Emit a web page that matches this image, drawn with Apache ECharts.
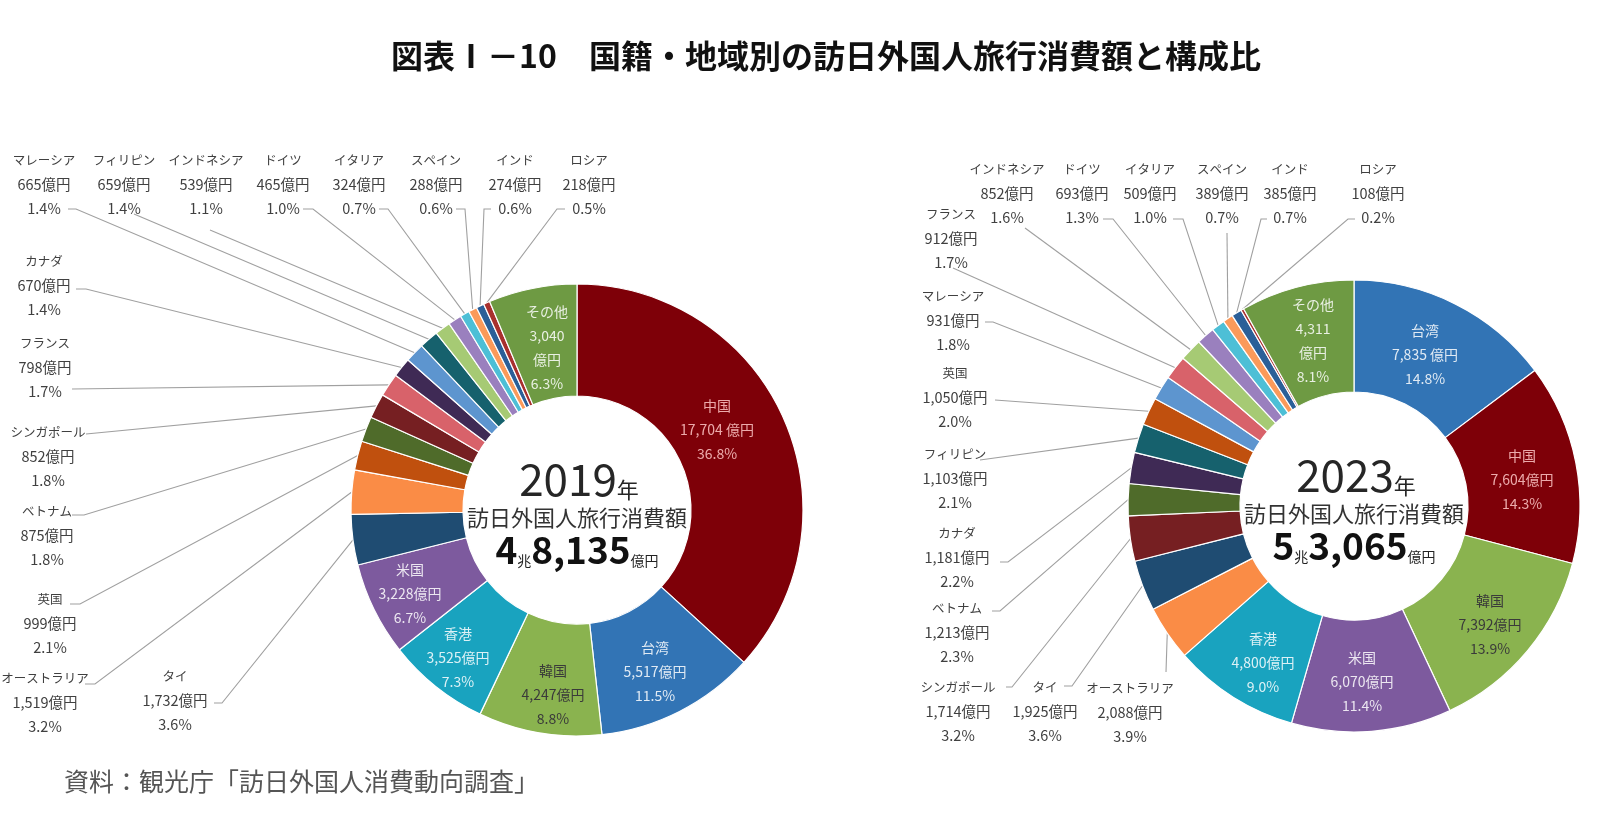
<!DOCTYPE html>
<html><head><meta charset="utf-8">
<script src="https://cdn.jsdelivr.net/npm/echarts@6/dist/echarts.min.js"></script>
<style>html,body{margin:0;padding:0;background:#fff}#c{width:1600px;height:823px}</style>
</head><body><div id="c"></div>
<script>
// ---- data ----
const titleText = '図表Ⅰ－10　国籍・地域別の訪日外国人旅行消費額と構成比';
const sourceText = '資料：観光庁「訪日外国人消費動向調査」';
const years = ['2019', '2023'];
const totals = [48135, 53065];
const centerCaption = '訪日外国人旅行消費額';

const names2019 = ['中国','台湾','韓国','香港','米国','タイ','オーストラリア','英国','ベトナム','シンガポール','フランス','カナダ','マレーシア','フィリピン','インドネシア','ドイツ','イタリア','スペイン','インド','ロシア','その他'];
const values2019 = [17704,5517,4247,3525,3228,1732,1519,999,875,852,798,670,665,659,539,465,324,288,274,218,3040];
const shares2019 = [36.8,11.5,8.8,7.3,6.7,3.6,3.2,2.1,1.8,1.8,1.7,1.4,1.4,1.4,1.1,1.0,0.7,0.6,0.6,0.5,6.3];

const names2023 = ['台湾','中国','韓国','米国','香港','オーストラリア','タイ','シンガポール','ベトナム','カナダ','フィリピン','英国','マレーシア','フランス','インドネシア','ドイツ','イタリア','スペイン','インド','ロシア','その他'];
const values2023 = [7835,7604,7392,6070,4800,2088,1925,1714,1213,1181,1103,1050,931,912,852,693,509,389,385,108,4311];
const shares2023 = [14.8,14.3,13.9,11.4,9.0,3.9,3.6,3.2,2.3,2.2,2.1,2.0,1.8,1.7,1.6,1.3,1.0,0.7,0.7,0.2,8.1];

const insideNames = ['中国','台湾','韓国','香港','米国','その他'];
const spacedUnit = [['中国'], ['台湾']];

// ---- styles ----
const FONT = '"Noto Sans CJK JP", "Noto Sans", sans-serif';
const colors = {
  '中国':'#7E0008','台湾':'#3274B5','韓国':'#8AB34F','香港':'#19A3BF','米国':'#7D5A9E',
  'タイ':'#1F4C72','オーストラリア':'#FA8C46','英国':'#C0500E','ベトナム':'#4F6B2A',
  'シンガポール':'#761F22','フランス':'#D8626A','カナダ':'#3F2A55','マレーシア':'#5D95CF',
  'フィリピン':'#16616D','インドネシア':'#A6CA74','ドイツ':'#9A80BE','イタリア':'#4DBFD6',
  'スペイン':'#FB9A5A','インド':'#2B5F98','ロシア':'#A8302E','その他':'#6E9A43'
};
const insideColor = {'中国':'rgba(255,200,200,0.85)','韓国':'#3a3a3a'};

// ---- layout (label centers; attach point + stub for leader lines) ----
const pies = [
  {center:[577,510], radius:[114,226]},
  {center:[1354,506], radius:[114,226]}
];
const labelPos2019 = {
  '中国':[717,430],'台湾':[655,672],'韓国':[553,695],'香港':[458,658],'米国':[410,594],'その他':[547,348],
  'マレーシア':[44,184,68,209,8],'フィリピン':[124,184,134,214,0],'インドネシア':[206,184,210,230,0],
  'ドイツ':[283,184,303,209,10],'イタリア':[359,184,379,209,9],'スペイン':[436,184,456,209,9],
  'インド':[515,184,491,209,-7],'ロシア':[589,184,565,209,-8],
  'カナダ':[44,285,76,289,10],'フランス':[45,367,72,389,0],'シンガポール':[48,456,86,434,0],
  'ベトナム':[47,535,72,515,12],'英国':[50,623,70,604,10],'オーストラリア':[45,702,85,684,10],
  'タイ':[175,700,214,703,8]
};
const labelPos2023 = {
  '台湾':[1425,355],'中国':[1522,480],'韓国':[1490,625],'米国':[1362,682],'香港':[1263,663],'その他':[1313,341],
  'インドネシア':[1007,193,1025,228,0],'ドイツ':[1082,193,1103,219,10],'イタリア':[1150,193,1173,219,10],
  'スペイン':[1222,193,1227,233,0],'インド':[1290,193,1267,219,-6],'ロシア':[1378,193,1355,219,-7],
  'フランス':[951,238,953,268,0],'マレーシア':[953,320,985,322,8],'英国':[955,397,995,400,0],
  'フィリピン':[955,478,980,460,0],'カナダ':[957,557,1000,562,8],'ベトナム':[957,632,992,611,8],
  'シンガポール':[958,711,1006,687,6],'タイ':[1045,711,1064,686,8],'オーストラリア':[1130,712,1166,672,0]
};

function fmt(n){ return n.toLocaleString('en-US'); }

function buildSeries(idx, names, values, shares, pos){
  const data = names.map((n,i)=>{
    const inside = insideNames.indexOf(n) >= 0;
    const item = {name:n, value:values[i], itemStyle:{color:colors[n]}};
    if (inside) {
      item.label = {position:'inside', color: insideColor[n] || 'rgba(255,255,255,0.85)', fontSize:14, lineHeight:24};
      item.labelLine = {show:false};
    }
    return item;
  });
  return {
    type:'pie', center:pies[idx].center, radius:pies[idx].radius,
    startAngle:90, clockwise:true, avoidLabelOverlap:false, minShowLabelAngle:0,
    animation:false,
    itemStyle:{borderColor:'#ffffff', borderWidth:1.2},
    label:{
      show:true, position:'outside', color:'#404040', fontSize:15, lineHeight:24,
      fontFamily:FONT, align:'center',
      rich:{
        n:{fontSize:12.5, color:'#404040', fontFamily:FONT, lineHeight:24},
        v:{fontSize:14.5, color:'#404040', fontFamily:FONT, lineHeight:24}
      },
      formatter:(p)=>{
        const i = p.dataIndex, n = names[i];
        const pct = shares[i].toFixed(1) + '%';
        if (n === 'その他') return n + '\n' + fmt(values[i]) + '\n億円\n' + pct;
        if (insideNames.indexOf(n) >= 0) return n + '\n' + fmt(values[i]) + (spacedUnit[idx].indexOf(n) >= 0 ? ' ' : '') + '億円\n' + pct;
        return '{n|' + n + '}\n{v|' + fmt(values[i]) + '億円}\n{v|' + pct + '}';
      }
    },
    labelLine:{show:true, length:10, length2:10, lineStyle:{color:'#A0A0A0', width:1.1}},
    labelLayout:(params)=>{
      const p = pos[names[params.dataIndex]];
      if (!p) return {};
      const out = {x:p[0], y:p[1], align:'center', verticalAlign:'middle'};
      if (p.length > 2 && params.labelLinePoints) {
        const s = params.labelLinePoints[0];
        out.labelLinePoints = [[s[0], s[1]], [p[2]+p[4], p[3]], [p[2], p[3]]];
      }
      return out;
    },
    data
  };
}

function centerTexts(idx){
  const c = pies[idx].center;
  const t = totals[idx];
  const cho = Math.floor(t/10000), rest = fmt(t % 10000);
  return [
    {type:'text', x:c[0]+2, y:c[1]-34, style:{text:'{y|'+years[idx]+'}{n|年}', align:'center', verticalAlign:'middle',
      rich:{y:{fontSize:44, fontFamily:FONT, fill:'#262626', verticalAlign:'bottom', lineHeight:50},
            n:{fontSize:22, fontFamily:FONT, fill:'#262626', verticalAlign:'bottom', lineHeight:40}}}},
    {type:'text', x:c[0], y:c[1]+8, style:{text:centerCaption, align:'center', verticalAlign:'middle',
      fontSize:22, fontFamily:FONT, fill:'#333333'}},
    {type:'text', x:c[0], y:c[1]+37, style:{text:'{b|'+cho+'}{s|兆}{b|'+rest+'}{s|億円}', align:'center', verticalAlign:'middle',
      rich:{b:{fontSize:37, fontWeight:'bold', fontFamily:FONT, fill:'#111111', verticalAlign:'bottom', lineHeight:42},
            s:{fontSize:14, fontFamily:FONT, fill:'#222222', verticalAlign:'bottom', lineHeight:30}}}}
  ];
}

const chart = echarts.init(document.getElementById('c'), null, {renderer:'canvas'});
chart.setOption({
  backgroundColor:'#ffffff',
  animation:false,
  series:[
    buildSeries(0, names2019, values2019, shares2019, labelPos2019),
    buildSeries(1, names2023, values2023, shares2023, labelPos2023)
  ],
  graphic:[
    {type:'text', x:826, y:56, style:{text:titleText, align:'center', verticalAlign:'middle', fontSize:32, fontWeight:'bold', fontFamily:FONT, fill:'#111111'}},
    {type:'text', x:64, y:781, style:{text:sourceText, align:'left', verticalAlign:'middle', fontSize:25, fontFamily:FONT, fill:'#555555'}}
  ].concat(centerTexts(0), centerTexts(1))
});
</script></body></html>
